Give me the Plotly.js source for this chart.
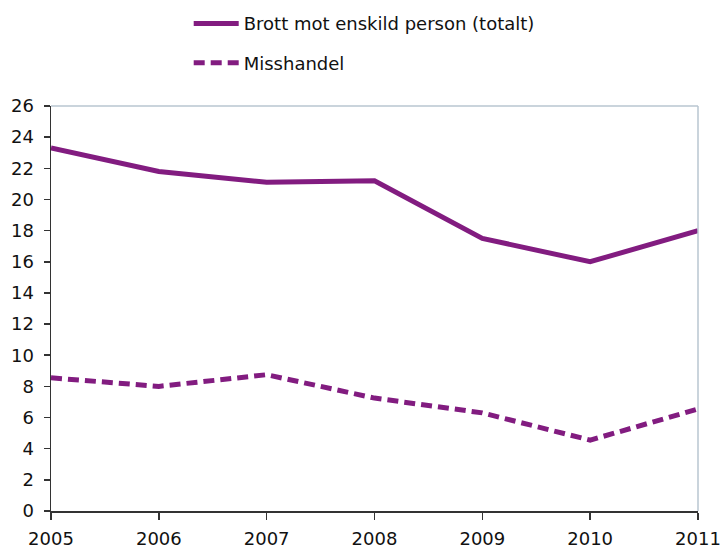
<!DOCTYPE html>
<html>
<head>
<meta charset="utf-8">
<script src="https://cdn.plot.ly/plotly-3.0.1.min.js"></script>
<style>html,body{margin:0;padding:0;background:#fff;}#chart{width:723px;height:551px;}</style>
</head>
<body>
<div id="chart"></div>
<script>
const years = [2005, 2006, 2007, 2008, 2009, 2010, 2011];
const totalt = [23.3, 21.8, 21.1, 21.2, 17.5, 16.0, 18.0];
const misshandel = [8.55, 8.0, 8.75, 7.25, 6.3, 4.55, 6.55];
const names = ['Brott mot enskild person (totalt)', 'Misshandel'];
const yTicks = [0, 2, 4, 6, 8, 10, 12, 14, 16, 18, 20, 22, 24, 26];

const purple = '#821c80';
const font = 'DejaVu Sans, sans-serif';
const txt = '#111';

const traces = [
  {x: years, y: totalt, name: names[0], mode: 'lines', legendgroup: 'a',
   line: {color: purple, width: 5}},
  {x: years, y: misshandel, name: names[1], mode: 'lines', legendgroup: 'b',
   line: {color: purple, width: 5, dash: '11px,6px'}}
];

const layout = {
  width: 723, height: 551,
  margin: {l: 51, r: 25, t: 106, b: 40, autoexpand: false},
  paper_bgcolor: '#fff', plot_bgcolor: '#fff',
  font: {family: font, size: 18, color: txt},
  showlegend: true,
  legend: {xref: 'container', yref: 'container', x: 0.261, y: 0.9906,
           xanchor: 'left', yanchor: 'top', traceorder: 'grouped',
           tracegroupgap: 13, font: {family: font, size: 18, color: txt},
           bgcolor: 'rgba(0,0,0,0)', itemwidth: 45},
  xaxis: {range: [2005, 2011], tickvals: years, ticktext: years.map(String),
          showgrid: false, zeroline: false, showline: true, linecolor: '#333', linewidth: 1.5,
          ticks: 'outside', ticklen: 7, tickcolor: '#333', tickwidth: 1.5,
          ticklabelstandoff: 4, automargin: false,
          tickfont: {family: font, size: 18, color: txt}},
  yaxis: {range: [0, 26], tickvals: yTicks, ticktext: yTicks.map(String),
          showgrid: false, zeroline: false, showline: true, linecolor: '#333', linewidth: 1.5,
          ticks: 'outside', ticklen: 6, tickcolor: '#333', tickwidth: 1.5,
          ticklabelstandoff: 6, automargin: false,
          tickfont: {family: font, size: 18, color: txt}},
  shapes: [
    {type: 'line', xref: 'paper', yref: 'paper', x0: 0, x1: 1, y0: 1, y1: 1,
     line: {color: '#b8c6d0', width: 1.5}},
    {type: 'line', xref: 'paper', yref: 'paper', x0: 1, x1: 1, y0: 0, y1: 1,
     line: {color: '#b8c6d0', width: 1.5}}
  ]
};

Plotly.newPlot('chart', traces, layout, {displayModeBar: false, staticPlot: true});
</script>
</body>
</html>
